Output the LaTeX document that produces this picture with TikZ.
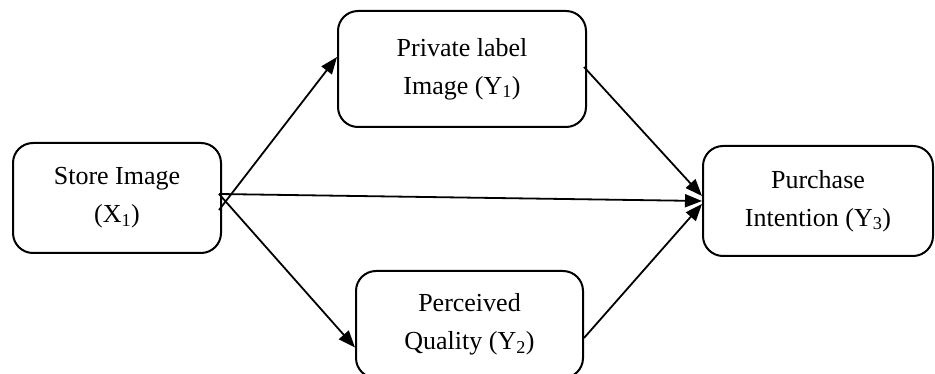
\documentclass[tikz,border=0pt]{standalone}
\usepackage{fontspec}
\setmainfont{Liberation Serif}
\usetikzlibrary{arrows.meta}
\begin{document}
\begin{tikzpicture}[x=1pt,y=-1pt,
  box/.style={draw, line width=2pt, rounded corners=20pt, align=center,
    font=\fontsize{26}{38}\selectfont, inner sep=0pt},
  arr/.style={line width=1.8pt, -{Triangle[length=17pt,width=13pt]}}]
\useasboundingbox (0,0) rectangle (935,374);
\node[box, minimum width=208pt, minimum height=110pt] (s) at (117,198) {Store Image\\(X\textsubscript{1})};
\node[box, minimum width=248pt, minimum height=116pt] (p) at (462,69) {Private label\\Image (Y\textsubscript{1})};
\node[box, minimum width=227pt, minimum height=107pt] (q) at (469.5,324.5) {Perceived\\Quality (Y\textsubscript{2})};
\node[box, minimum width=230pt, minimum height=110pt] (u) at (818,201) {Purchase\\Intention (Y\textsubscript{3})};
\draw[arr] ([xshift=-3pt,yshift=-12pt]s.east) -- ([yshift=12pt]p.west);
\draw[arr] ([xshift=-3pt,yshift=4pt]s.east) -- ([yshift=-23pt]q.west);
\draw[arr] ([xshift=-3pt,yshift=4pt]s.east) -- (u.west);
\draw[arr] ([xshift=-3pt,yshift=2pt]p.east) -- ([yshift=5pt]u.west);
\draw[arr] ([yshift=-13.5pt]q.east) -- ([yshift=-3pt]u.west);
\end{tikzpicture}
\end{document}
